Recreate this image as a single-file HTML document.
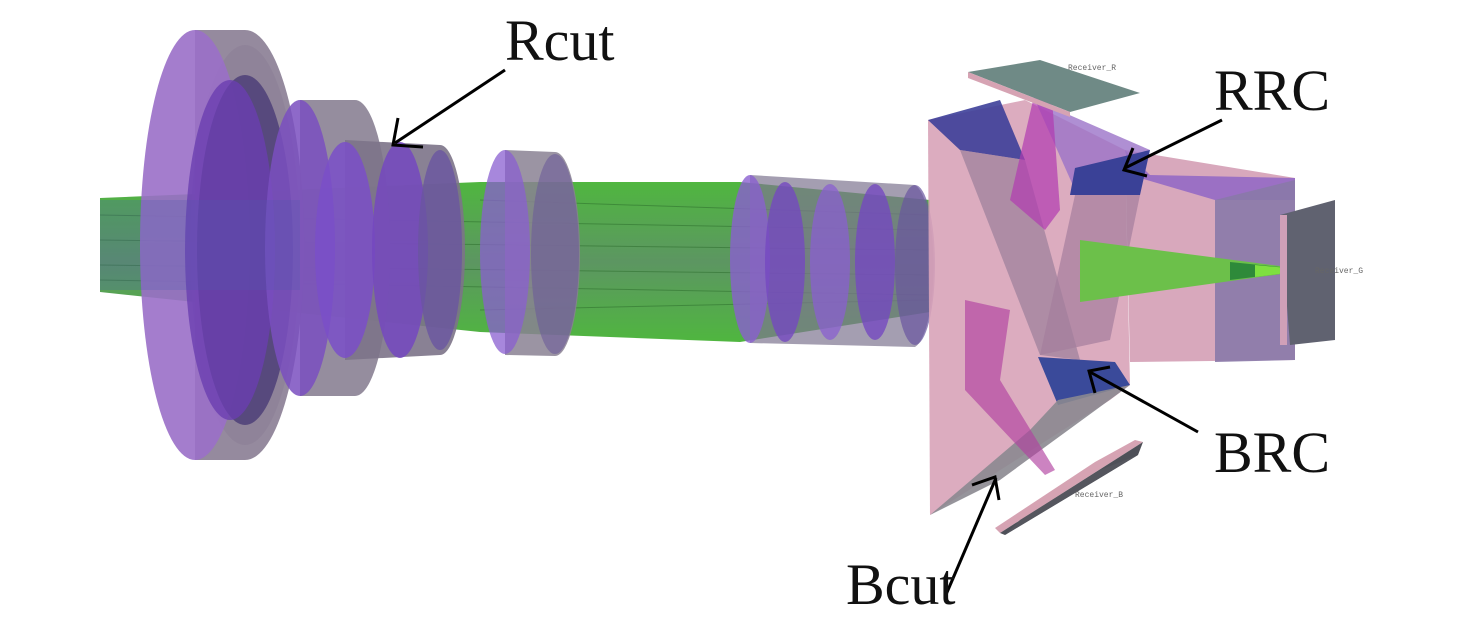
<!DOCTYPE html>
<html><head><meta charset="utf-8"><style>
html,body{margin:0;padding:0;background:#fff}
svg{display:block}
text{font-family:"Liberation Serif",serif;fill:#111}
</style></head><body>
<svg width="1476" height="621" viewBox="0 0 1476 621" xmlns="http://www.w3.org/2000/svg">
<defs>
<linearGradient id="beam" x1="0" y1="0" x2="0" y2="1">
<stop offset="0" stop-color="#3cae2a"/><stop offset="0.5" stop-color="#4a8a50"/><stop offset="1" stop-color="#3cae2a"/>
</linearGradient>
</defs>
<!-- beam -->
<polygon points="100,198 480,182 740,182 930,200 930,312 740,342 480,332 100,292" fill="url(#beam)" opacity="0.9"/>
<g stroke="#2a6a2a" stroke-width="1" opacity="0.5">
<line x1="100" y1="215" x2="930" y2="230"/><line x1="100" y1="240" x2="930" y2="250"/><line x1="100" y1="265" x2="930" y2="275"/><line x1="100" y1="280" x2="930" y2="295"/>
<line x1="480" y1="200" x2="930" y2="215"/><line x1="480" y1="310" x2="930" y2="300"/>
</g>
<!-- lens 1 -->
<path d="M195,30 L245,30 A55,200 0 0 1 245,460 L195,460 Z" fill="#8f8499" opacity="0.95"/>
<ellipse cx="245" cy="245" rx="55" ry="200" fill="#8c7f96" opacity="0.6"/>
<ellipse cx="195" cy="245" rx="55" ry="215" fill="#9a6fc8" opacity="0.9"/>
<ellipse cx="245" cy="250" rx="48" ry="175" fill="#4e3f78" opacity="0.85"/>
<ellipse cx="230" cy="250" rx="45" ry="170" fill="#6a3fb0" opacity="0.8"/>
<!-- lens 2 -->
<path d="M300,100 L355,100 A35,148 0 0 1 355,396 L300,396 Z" fill="#8a8193" opacity="0.9"/>
<ellipse cx="300" cy="248" rx="35" ry="148" fill="#7a4fc0" opacity="0.85"/>
<!-- lens 3 Rcut -->
<path d="M345,140 L440,145 A25,105 0 0 1 440,355 L345,360 Z" fill="#7c7388" opacity="0.9"/>
<ellipse cx="345" cy="250" rx="30" ry="108" fill="#7a4fc8" opacity="0.85"/>
<ellipse cx="400" cy="250" rx="28" ry="108" fill="#7448c0" opacity="0.85"/>
<ellipse cx="440" cy="250" rx="22" ry="100" fill="#6a55a0" opacity="0.8"/>
<polygon points="100,200 300,200 300,290 100,290" fill="#4a5ab0" opacity="0.25"/>
<!-- lens 4 -->
<path d="M505,150 L555,152 A25,102 0 0 1 555,356 L505,355 Z" fill="#8a8193" opacity="0.85"/>
<ellipse cx="505" cy="252" rx="25" ry="102" fill="#8a5fd0" opacity="0.75"/>
<ellipse cx="555" cy="254" rx="24" ry="100" fill="#6d5b99" opacity="0.6"/>
<!-- lens group -->
<path d="M750,175 L915,185 A22,82 0 0 1 915,347 L750,343 Z" fill="#7e7590" opacity="0.7"/>
<ellipse cx="750" cy="259" rx="20" ry="84" fill="#8a5fd0" opacity="0.8"/>
<ellipse cx="785" cy="262" rx="20" ry="80" fill="#7448c0" opacity="0.8"/>
<ellipse cx="830" cy="262" rx="20" ry="78" fill="#8a5fd0" opacity="0.75"/>
<ellipse cx="875" cy="262" rx="20" ry="78" fill="#7448c0" opacity="0.8"/>
<ellipse cx="915" cy="265" rx="20" ry="80" fill="#6a55a0" opacity="0.7"/>
<!-- prism main -->
<polygon points="928,120 1025,100 1125,150 1130,385 1110,400 930,515" fill="#d8a3b8" opacity="0.9"/>
<polygon points="1125,150 1295,178 1295,360 1130,362" fill="#d8a8bc"/>
<polygon points="1125,150 1150,175 1295,178 1295,200 1215,200 1130,175" fill="#9b70c4"/>
<polygon points="1215,200 1295,180 1295,360 1215,362" fill="#8a79a8" opacity="0.9"/>
<polygon points="1035,100 1150,150 1130,175 1075,190" fill="#9b73c8" opacity="0.8"/>
<polygon points="928,120 1000,100 1025,160 960,150" fill="#3d3f99" opacity="0.9"/>
<polygon points="1075,168 1150,150 1140,195 1070,195" fill="#3a4197"/>
<polygon points="960,150 1025,160 1080,360 1040,355" fill="#9a7f9a" opacity="0.7"/>
<polygon points="1075,195 1140,195 1110,340 1040,355" fill="#a47d9c" opacity="0.7"/>
<polygon points="1038,357 1115,362 1130,385 1058,405" fill="#3a4a9a"/>
<polygon points="1058,400 1130,385 1000,480 930,515 1030,430" fill="#8b8890" opacity="0.9"/>
<!-- magenta beams -->
<polygon points="1040,70 1050,70 1060,210 1045,230 1010,200" fill="#b03ab0" opacity="0.7"/>
<polygon points="965,300 1010,310 1000,380 1055,470 1045,475 965,390" fill="#b040a0" opacity="0.65"/>
<!-- green cone -->
<polygon points="1080,240 1310,270 1080,302" fill="#6cc04a"/>
<polygon points="1230,262 1310,270 1230,280" fill="#2e8a3a"/>
<polygon points="1255,265 1310,270 1255,277" fill="#7ee040"/>
<!-- receivers -->
<polygon points="968,72 1040,60 1140,93 1070,112" fill="#6f8a86"/>
<polygon points="968,72 1070,112 1070,117 968,78" fill="#d6a3b3"/>
<polygon points="1280,215 1335,200 1335,340 1290,345" fill="#606270"/>
<rect x="1280" y="215" width="7" height="130" fill="#d0a0b8"/>
<polygon points="995,528 1095,462 1135,440 1143,442 1000,533" fill="#d6a3b3"/>
<polygon points="1000,533 1143,442 1138,455 1100,478 1005,535" fill="#4e5058"/>
<polygon points="1020,520 1100,470 1138,455 1005,535" fill="#55565e"/>
<text x="1068" y="70" font-size="8" style="font-family:'Liberation Mono',monospace;fill:#666">Receiver_R</text>
<text x="1315" y="273" font-size="8" style="font-family:'Liberation Mono',monospace;fill:#666">Receiver_G</text>
<text x="1075" y="497" font-size="8" style="font-family:'Liberation Mono',monospace;fill:#666">Receiver_B</text>
<!-- arrows -->
<g stroke="#000" stroke-width="3" fill="none">
<line x1="505" y1="70" x2="395" y2="143"/><polyline points="398,118 393,145 423,147"/>
<line x1="1222" y1="120" x2="1125" y2="168"/><polyline points="1133,148 1124,170 1147,176"/>
<line x1="1198" y1="432" x2="1090" y2="372"/><polyline points="1110,367 1089,371 1095,393"/>
<line x1="945" y1="597" x2="996" y2="478"/><polyline points="972,485 995,477 999,500"/>
</g>
<text x="505" y="60" font-size="58">Rcut</text>
<text x="1214" y="110" font-size="58">RRC</text>
<text x="1214" y="472" font-size="58">BRC</text>
<text x="846" y="604" font-size="58">Bcut</text>
</svg>
</body></html>
